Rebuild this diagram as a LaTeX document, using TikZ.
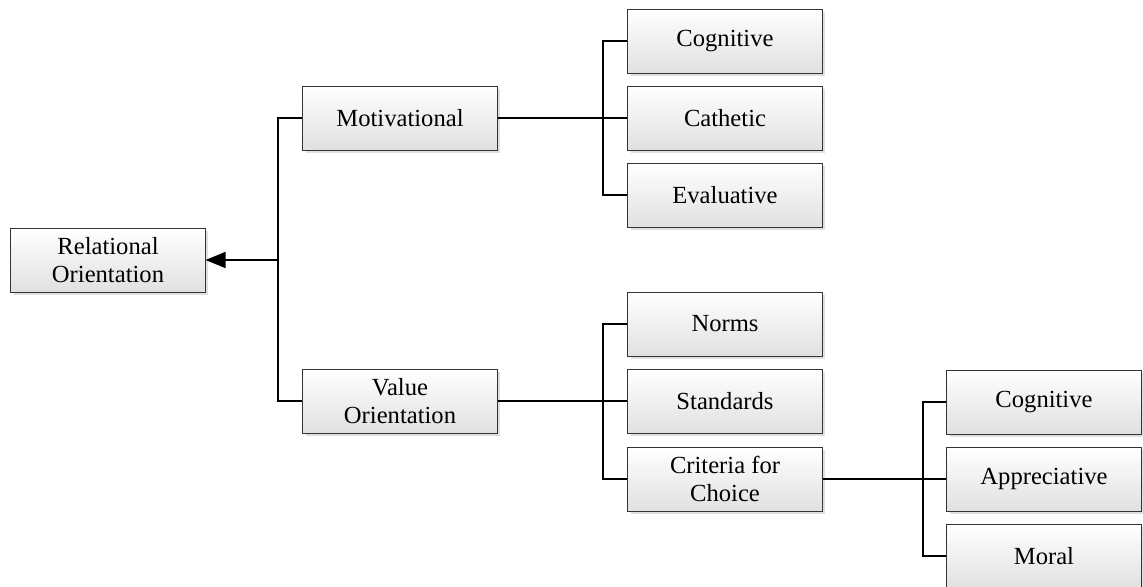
\documentclass[tikz,border=0pt]{standalone}
\usepackage{fontspec}
\setmainfont{Liberation Serif}
\usepackage{tikz}
\usetikzlibrary{arrows.meta, shadows}
\tikzstyle{box} = [draw=black!80, line width=0.7pt, top color=white, bottom color=black!12, minimum width=4.85cm, minimum height=1.6cm, align=center, font=\fontsize{17.5}{20}\selectfont, drop shadow={shadow xshift=0.08cm, shadow yshift=-0.08cm, fill=black!25}]
\tikzstyle{link} = [line width=1.1pt]
\tikzstyle{arrow} = [line width=1.1pt, -{Triangle[length=0.5cm, width=0.4cm]}]

\begin{document}
\begin{tikzpicture}[x=0.025cm, y=-0.025cm]
        \useasboundingbox (0,0) rectangle (1143,586);
        % Root
        \node[box] (rel) at (108,260) {Relational\\Orientation};
        % Second level
        \node[box] (mot) at (400,118) {Motivational};
        \node[box] (val) at (400,401) {Value\\Orientation};
        % Motivational modes
        \node[box] (cog) at (725,41) {Cognitive};
        \node[box] (cat) at (725,118) {Cathetic};
        \node[box] (eva) at (725,195) {Evaluative};
        % Value orientation modes
        \node[box] (nor) at (725,324) {Norms};
        \node[box] (std) at (725,401) {Standards};
        \node[box] (crit) at (725,479) {Criteria for\\Choice};
        % Criteria
        \node[box] (cogb) at (1044,402) {Cognitive};
        \node[box] (app) at (1044,479) {Appreciative};
        \node[box] (mor) at (1044,556) {Moral};

        % Junctions
        \coordinate (j1) at (278,260);
        \coordinate (j2) at (603,118);
        \coordinate (j3) at (603,401);
        \coordinate (j4) at (923,479);

        \draw[link] (mot.west) -| (j1) |- (val.west);
        \draw[arrow] (j1) -- (rel.east);
        \draw[link] (mot.east) -- (cat.west);
        \draw[link] (cog.west) -| (j2) |- (eva.west);
        \draw[link] (val.east) -- (std.west);
        \draw[link] (nor.west) -| (j3) |- (crit.west);
        \draw[link] (crit.east) -- (app.west);
        \draw[link] (cogb.west) -| (j4) |- (mor.west);
\end{tikzpicture}
\end{document}
